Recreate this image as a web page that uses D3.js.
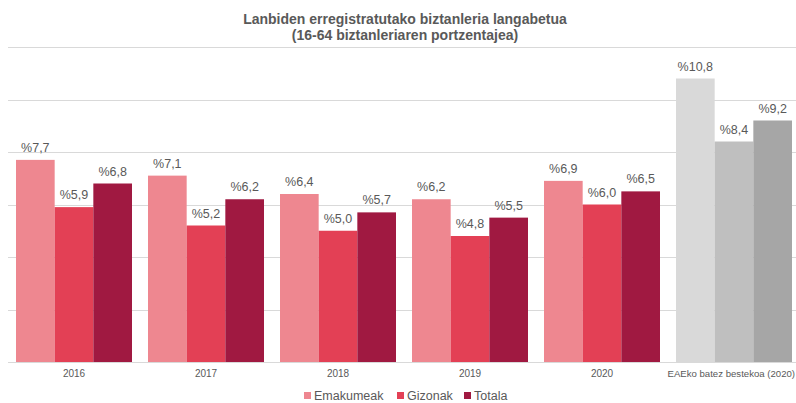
<!DOCTYPE html>
<html>
<head>
<meta charset="utf-8">
<script src="https://cdn.jsdelivr.net/npm/d3@7/dist/d3.min.js"></script>
<style>
  body { margin: 0; background: #fff; }
  svg { display: block; font-family: "Liberation Sans", Arial, sans-serif; }
</style>
</head>
<body>
<div id="chart"></div>
<script>
// data
var categories = ["2016", "2017", "2018", "2019", "2020", "EAEko batez bestekoa (2020)"];
var seriesNames = ["Emakumeak", "Gizonak", "Totala"];
var emakumeak = [7.7, 7.1, 6.4, 6.2, 6.9, 10.8];
var gizonak   = [5.9, 5.2, 5.0, 4.8, 6.0, 8.4];
var totala    = [6.8, 6.2, 5.7, 5.5, 6.5, 9.2];
var yTicks = [0, 2, 4, 6, 8, 10, 12];

var redColors  = ["#ee8790", "#e34055", "#a01941"];
var greyColors = ["#d9d9d9", "#bfbfbf", "#a6a6a6"];

var w = 796, h = 403;
var margin = {top: 47, left: 8, bottom: 41};

var svg = d3.select("#chart").append("svg")
	.attr("width", w)
	.attr("height", h);

// title
var title = svg.append("text")
	.attr("text-anchor", "middle")
	.attr("font-weight", "bold")
	.attr("font-size", "14px")
	.attr("fill", "#595959");
title.append("tspan").attr("x", 405).attr("y", 24).text("Lanbiden erregistratutako biztanleria langabetua");
title.append("tspan").attr("x", 405).attr("y", 40).text("(16-64  biztanleriaren portzentajea)");

var x0 = d3.scaleBand()
	.domain(categories)
	.range([margin.left, margin.left + 132 * categories.length])
	.paddingInner(16 / 132)
	.paddingOuter(8 / 132);

var x1 = d3.scaleBand()
	.domain(seriesNames)
	.range([0, x0.bandwidth()]);

var y = d3.scaleLinear()
	.domain([0, 12])
	.range([h - margin.bottom, margin.top]);

// gridlines
svg.append("g")
	.selectAll("line")
	.data(yTicks)
	.enter()
	.append("line")
	.attr("x1", margin.left)
	.attr("x2", w)
	.attr("y1", function(d) { return Math.round(y(d)) + 0.5; })
	.attr("y2", function(d) { return Math.round(y(d)) + 0.5; })
	.attr("stroke", "#d9d9d9")
	.attr("stroke-width", 1);

// rows for the bars
var rows = categories.map(function(c, i) {
	return {cat: c, idx: i, vals: [emakumeak[i], gizonak[i], totala[i]]};
});

var groups = svg.selectAll("g.grp")
	.data(rows)
	.enter()
	.append("g")
	.attr("class", "grp")
	.attr("transform", function(d) { return "translate(" + x0(d.cat) + ",0)"; });

groups.selectAll("rect")
	.data(function(d) {
		return d.vals.map(function(v, j) { return {name: seriesNames[j], v: v, j: j, grey: d.idx === 5}; });
	})
	.enter()
	.append("rect")
	.attr("x", function(d) { return x1(d.name); })
	.attr("y", function(d) { return y(d.v); })
	.attr("width", x1.bandwidth())
	.attr("height", function(d) { return y(0) - y(d.v); })
	.attr("fill", function(d) { return d.grey ? greyColors[d.j] : redColors[d.j]; });

groups.selectAll("text.lbl")
	.data(function(d) {
		return d.vals.map(function(v, j) { return {name: seriesNames[j], v: v}; });
	})
	.enter()
	.append("text")
	.attr("class", "lbl")
	.attr("x", function(d) { return x1(d.name) + x1.bandwidth() / 2; })
	.attr("y", function(d) { return y(d.v) - 8; })
	.attr("text-anchor", "middle")
	.attr("font-size", "12.5px")
	.attr("fill", "#595959")
	.text(function(d) { return "%" + d3.format(".1f")(d.v).replace(".", ","); });

// x axis labels (the long last one a bit smaller so it fits the edge)
svg.append("g")
	.selectAll("text")
	.data(categories)
	.enter()
	.append("text")
	.attr("x", function(d, i) { return i === 5 ? w - 1 : x0(d) + x0.bandwidth() / 2; })
	.attr("y", h - margin.bottom + 15)
	.attr("text-anchor", function(d, i) { return i === 5 ? "end" : "middle"; })
	.attr("font-size", function(d, i) { return i === 5 ? "9.6px" : "10px"; })
	.attr("fill", "#595959")
	.text(function(d) { return d; });

// legend
var legendX = [304, 397, 464];
var legend = svg.append("g")
	.selectAll("g")
	.data(seriesNames)
	.enter()
	.append("g")
	.attr("transform", function(d, i) { return "translate(" + legendX[i] + ",392)"; });

legend.append("rect")
	.attr("width", 7)
	.attr("height", 7)
	.attr("fill", function(d, i) { return redColors[i]; });

legend.append("text")
	.attr("x", 10)
	.attr("y", 8)
	.attr("font-size", "12.5px")
	.attr("fill", "#595959")
	.text(function(d) { return d; });
</script>
</body>
</html>
